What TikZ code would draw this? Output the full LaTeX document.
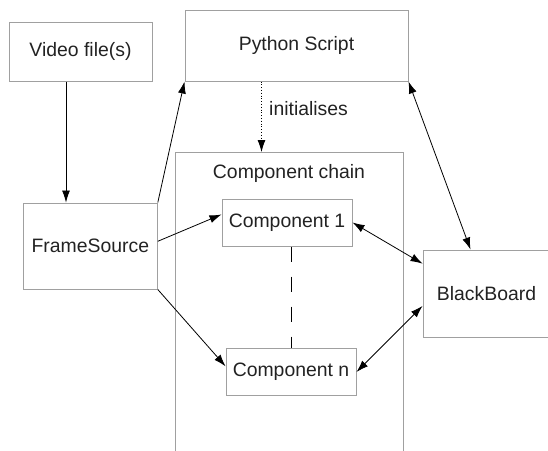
\documentclass[tikz,border=0pt]{standalone}
\usepackage{fontspec}
\setmainfont{Liberation Sans}
\usepackage{xcolor}
\usepackage{tikz}
\usetikzlibrary{arrows.meta, positioning}

\definecolor{boxgray}{HTML}{A0A0A0}
\definecolor{textgray}{HTML}{222222}

\begin{document}
\begin{tikzpicture}[x=1pt, y=1pt, on grid, auto,
    font=\fontsize{19.4}{23}\selectfont, text=textgray,
    >={Latex[length=12pt, width=8pt]},
    block/.style={draw=boxgray, line width=1pt, inner sep=0pt},
    flow/.style={->, line width=0.8pt}]

                \useasboundingbox (0,0) rectangle (548,-450);
                \clip (0,0) rectangle (548,-450);

                % Le conteneur de la chaîne
                \node[block, anchor=north, minimum width=228pt, minimum height=310pt,
                      label={[anchor=north, yshift=-9pt]north:Component chain}]
                      (chain) at (289,-152) {};

                % Définitions des blocs
                \node[block, minimum width=143pt, minimum height=59pt] (video) at (80.5,-51.5) {Video file(s)};
                \node[block, minimum width=223pt, minimum height=71pt, above right=6pt and 216pt of video] (python) {Python Script};
                \node[block, minimum width=134pt, minimum height=86pt, below right=194.5pt and 9.8pt of video] (frame) {FrameSource};
                \node[block, minimum width=130pt, minimum height=47pt, above right=23.5pt and 196.7pt of frame] (comp1) {Component 1};
                \node[block, minimum width=130pt, minimum height=47.5pt, below right=149.5pt and 4pt of comp1] (compn) {Component n};
                \node[block, minimum width=127pt, minimum height=87pt, below right=71pt and 199.5pt of comp1] (board) {BlackBoard};

                % Définition des flèches
                \draw[flow] ([xshift=-14.5pt]video.south) -- ([xshift=-14.5pt]video.south |- frame.north);
                \draw[flow, dotted] ([xshift=-35pt]python.south) -- ([xshift=-35pt]python.south |- chain.north)
                    node[right, pos=.38, xshift=4pt] {initialises};
                \draw[dash pattern=on 15pt off 15pt, line width=0.8pt] (comp1.south -| compn.north) -- (compn.north);
                \path[flow]
                (frame.north east) edge (python.south west)
                (frame.4) edge (comp1.173)
                (frame.south east) edge (compn.175);
                \path[<->, line width=0.8pt]
                (comp1.east) edge (board.155)
                (compn.east) edge (board.191)
                (python.south east) edge (board.110);

            \end{tikzpicture}
\end{document}
